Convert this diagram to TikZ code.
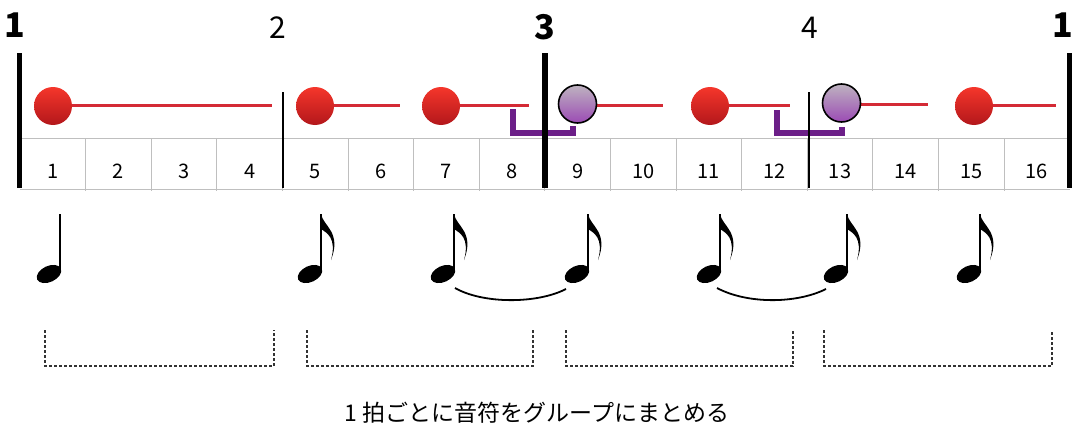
\documentclass[tikz,border=0pt]{standalone}
\usepackage{fontspec}
\setmainfont{Noto Sans CJK JP}
\usetikzlibrary{calc}
\definecolor{linered}{HTML}{D42A35}
\definecolor{ballhi}{HTML}{F5362B}
\definecolor{balllo}{HTML}{B3171B}
\definecolor{tiepurple}{HTML}{6C1F88}
\definecolor{purplehi}{HTML}{BEB3C0}
\definecolor{purplelo}{HTML}{9B4BB4}
\tikzset{
  redball/.style={top color=ballhi, bottom color=balllo},
  purpleball/.style={top color=purplehi, bottom color=purplelo, draw=black, line width=0.8pt},
  holdline/.style={linered, line width=1.5pt},
  anticip/.style={tiepurple, line width=3pt, line join=miter},
  gridline/.style={black!25, line width=0.5pt},
  thickbar/.style={line width=2.6pt},
  thinbar/.style={line width=1pt},
  cellnum/.style={font=\fontsize{10}{12}\selectfont},
  barnum/.style={font=\fontsize{15}{18}\selectfont},
  barnumbold/.style={font=\fontsize{17}{20}\selectfont\bfseries},
  groupline/.style={black!80, line width=0.7pt, dash pattern=on 1.5pt off 1pt},
  tieline/.style={line width=0.9pt}
}
% note drawn from its stem x
\def\quarternote(#1){
  \fill[rotate around={25:(#1-11,274)}] (#1-11,274) ellipse (13 and 8);
  \draw[line width=1pt] (#1,271) -- (#1,214);
}
\def\eighthnote(#1){
  \quarternote(#1)
  \fill (#1,214) .. controls (#1+2,226) and (#1+21,232) .. (#1+10,260)
        .. controls (#1+16,238) and (#1+6,233) .. (#1,229) -- cycle;
}

\begin{document}
\begin{tikzpicture}[x=0.5pt, y=-0.5pt]
			%%%%% START %%%%%
			\useasboundingbox (0,0) rectangle (1072,428);

			% grid
			\draw[gridline] (20,138) -- (1070,138);
			\draw[gridline] (20,189) -- (1070,189);
			\foreach \k in {1,...,15}
				\draw[gridline] ({20+65.6*\k},138) -- ++(0,53);
			\foreach \i in {1,...,16}
				\node[cellnum] (c\i) at ({20+65.6*(\i-0.5)},171) {\i};

			% anticipation marks
			\draw[anticip] (513,109) -- (513,133) -- (573,133) -- (573,126);
			\draw[anticip] (777,110) -- (777,133) -- (842,133) -- (842,127);

			% bar lines
			\draw[thickbar] (19.5,53) -- (19.5,188);
			\draw[thinbar] (282.5,92) -- (282.5,188);
			\draw[thickbar] (545,53) -- (545,188);
			\draw[thinbar] (808.5,92) -- (808.5,188);
			\draw[thickbar] (1069.5,53) -- (1069.5,188);

			\node[barnumbold] (b1) at (15,25.5) {1};
			\node[barnum] (b2) at (278,28) {2};
			\node[barnumbold] (b3) at (545,27.5) {3};
			\node[barnum] (b4) at (810,28) {4};
			\node[barnumbold] (b5) at (1063,25.5) {1};

			% note lengths
			\draw[holdline] (53,105) -- (272,105);
			\draw[holdline] (315,105) -- (400,105);
			\draw[holdline] (441,105) -- (529,105);
			\draw[holdline] (578,105) -- (663,105);
			\draw[holdline] (710,105) -- (790,105);
			\draw[holdline] (841,104) -- (928,104);
			\draw[holdline] (974,105) -- (1056,105);

			\shade[redball] (53,106) circle (19);
			\shade[redball] (315,106) circle (19);
			\shade[redball] (441,106) circle (19);
			\draw[purpleball] (577.5,104) circle (19);
			\shade[redball] (710,106) circle (19);
			\draw[purpleball] (841.5,103) circle (19);
			\shade[redball] (974,106) circle (19);

			% notes
			\quarternote(60)
			\eighthnote(321)
			\eighthnote(454)
			\eighthnote(588)
			\eighthnote(720)
			\eighthnote(847)
			\eighthnote(980)

			\coordinate (h7) at (443,274);
			\coordinate (h9) at (577,274);
			\coordinate (h11) at (709,274);
			\coordinate (h13) at (836,274);
			\draw[tieline] ($(h7)+(12,14)$) .. controls ($(h7)+(40,30)$) and ($(h9)+(-40,30)$) .. ($(h9)+(-11,15)$);
			\draw[tieline] ($(h11)+(8,14)$) .. controls ($(h11)+(38,30)$) and ($(h13)+(-40,30)$) .. ($(h13)+(-10,15)$);

			% beat groups
			\draw[groupline] (45,330) -- (45,366) -- (274,366) -- (274,330);
			\draw[groupline] (307,330) -- (307,366) -- (533,366) -- (533,330);
			\draw[groupline] (566,330) -- (566,366) -- (793,366) -- (793,330);
			\draw[groupline] (824,330) -- (824,366) -- (1052,366) -- (1052,330);

			\node[font=\fontsize{11.5}{14}\selectfont] (cap) at (537,413) {1 拍ごとに音符をグループにまとめる};
			%%%%% END %%%%%
\end{tikzpicture}
\end{document}
